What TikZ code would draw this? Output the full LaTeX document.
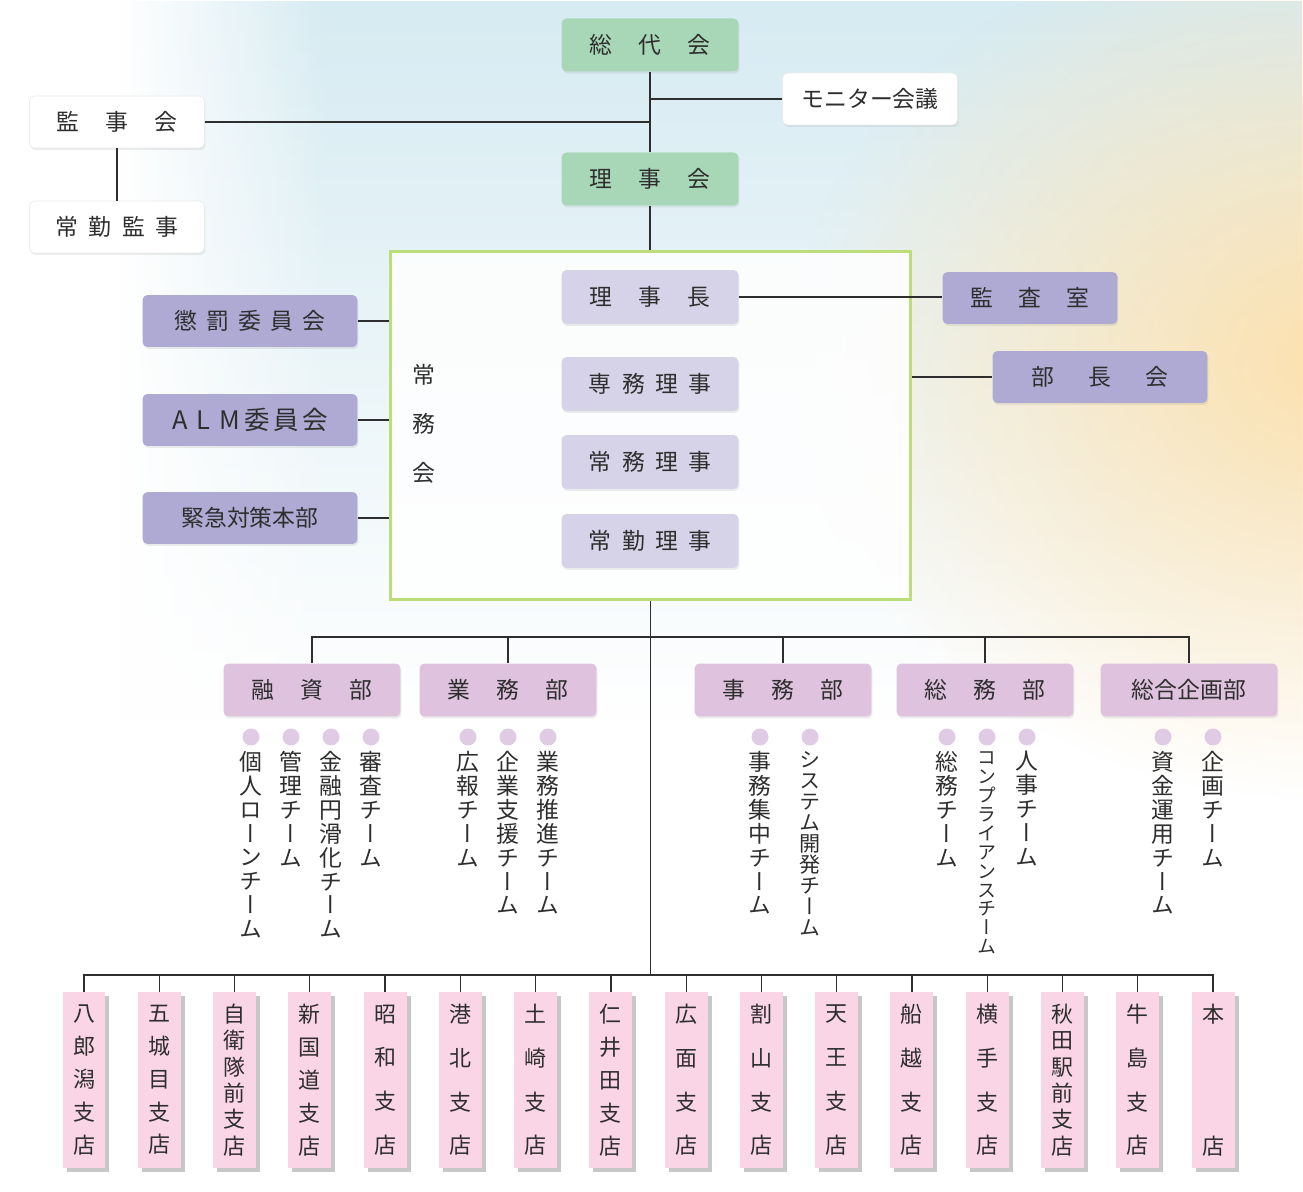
\documentclass[tikz,border=0pt]{standalone}
\usepackage{fontspec}
\setmainfont{Noto Sans CJK JP}
\newfontfamily\tatefont[RawFeature=+vert]{Noto Sans CJK JP}
\usetikzlibrary{shadows,fadings}

\definecolor{ink}{HTML}{2E2E2E}
\definecolor{wash}{HTML}{D6EBF2}
\definecolor{glow}{HTML}{FDE1AE}
\definecolor{mint}{HTML}{A7D7B7}
\definecolor{lilac}{HTML}{D6D3E9}
\definecolor{violet}{HTML}{AEAAD3}
\definecolor{mauve}{HTML}{DEC2DE}
\definecolor{blush}{HTML}{F9D5E5}
\definecolor{dotc}{HTML}{DFCCE4}
\definecolor{framegreen}{HTML}{BBDD7A}

\tikzfading[name=washfade, top color=transparent!0, bottom color=transparent!100]
\tikzfading[name=glowfade, inner color=transparent!0, outer color=transparent!100]
\tikzfading[name=edgefade, left color=transparent!0, right color=transparent!100]

\makeatletter
% characters stacked top to bottom, #1 = pitch
\newcommand\tate[2][13.6pt]{\vbox{\baselineskip=#1\relax\lineskiplimit=-\maxdimen
  \expandafter\tate@#2\@nil}}
\def\tate@#1#2\@nil{\hbox to 1em{\hss#1\hss}\ifx\relax#2\relax\else\tate@#2\@nil\fi}
% characters set apart, #1 = gap
\newcommand\spaced[2]{\spaced@{#1}#2\@nil}
\def\spaced@#1#2#3\@nil{#2\ifx\relax#3\relax\else\hspace{#1}\spaced@{#1}#3\@nil\fi}
\makeatother

\tikzset{
  box/.style={rounded corners=0.1cm, minimum width=3.54cm, minimum height=1.06cm,
    inner sep=0pt, text=ink, font=\fontsize{13pt}{15pt}\selectfont,
    drop shadow={shadow xshift=0.02cm, shadow yshift=-0.04cm, opacity=0.15}},
  greenbox/.style={box, fill=mint},
  whitebox/.style={box, fill=white, draw=black!8, line width=0.4pt,
    minimum width=3.5cm, minimum height=1.04cm},
  execbox/.style={box, fill=lilac, minimum height=1.08cm},
  sidebox/.style={box, fill=violet, minimum width=4.3cm, minimum height=1.04cm},
  deptbox/.style={box, fill=mauve},
  branchbox/.style={fill=blush, minimum width=0.86cm, minimum height=3.52cm, inner sep=0pt,
    text=ink, font=\tatefont\fontsize{12.5pt}{14pt}\selectfont,
    drop shadow={shadow xshift=0.08cm, shadow yshift=-0.08cm, fill=black!22, opacity=1}},
  team/.style={anchor=north, inner sep=0pt, text=ink, font=\tatefont\fontsize{#1}{15pt}\selectfont},
  team/.default=13pt,
  dot/.style={circle, fill=dotc, minimum size=0.34cm, inner sep=0pt},
  link/.style={draw=ink, line width=0.7pt}
}

\begin{document}
\begin{tikzpicture}[x=0.02cm, y=-0.02cm]
\useasboundingbox (0,0) rectangle (1303,1192);

% background wash
\begin{scope}
  \clip (0,0) rectangle (1303,1192);
  \fill[white] (0,0) rectangle (1303,1192);
  \fill[wash, path fading=washfade] (120,0) rectangle (1303,720);
  \fill[glow, path fading=glowfade] (1330,360) ellipse (540 and 440);
  \fill[white, path fading=edgefade] (120,0) rectangle (330,720);
\end{scope}

% general assembly, board, auditors
\node[greenbox] (sodai) at (650,45) {\spaced{1.15em}{総代会}};
\node[greenbox] (riji) at (650,179) {\spaced{1.15em}{理事会}};
\node[whitebox] (monitor) at (870,99) {モニター会議};
\node[whitebox] (kanji) at (117,122) {\spaced{1.15em}{監事会}};
\node[whitebox] (jokinkanji) at (117,227) {\spaced{0.45em}{常勤監事}};

% standing committee
\node[draw=framegreen, line width=0.06cm, fill=white, fill opacity=0.85,
  minimum width=10.42cm, minimum height=6.98cm, inner sep=0pt] (jomu) at (650.5,425.5) {};
\node[text=ink, font=\tatefont\fontsize{13pt}{15pt}\selectfont] (jomulabel) at (424,424) {\tate[27.8pt]{常務会}};
\node[execbox] (rijicho) at (650,297) {\spaced{1.15em}{理事長}};
\node[execbox] (senmu) at (650,384) {\spaced{0.45em}{専務理事}};
\node[execbox] (jomuriji) at (650,462) {\spaced{0.45em}{常務理事}};
\node[execbox] (jokinriji) at (650,541) {\spaced{0.45em}{常勤理事}};

% committees either side
\node[sidebox, minimum width=3.5cm] (kansa) at (1030,298) {\spaced{1.1em}{監査室}};
\node[sidebox] (bucho) at (1100,377) {\spaced{1.5em}{部長会}};
\node[sidebox] (chobatsu) at (250,321) {\spaced{0.4em}{懲罰委員会}};
\node[sidebox, font=\fontsize{14.5pt}{16pt}\selectfont] (alm) at (250,420)
  {\spaced{0.35em}{ALM}\hspace{0.2em}\spaced{0.13em}{委員会}};
\node[sidebox] (kinkyu) at (250,518) {緊急対策本部};

% top connectors
\draw[link] (sodai) -- (riji);
\draw[link] (riji) -- (riji |- jomu.north);
\draw[link] (monitor) -- (sodai |- monitor);
\draw[link] (kanji) -- (sodai |- kanji);
\draw[link] (kanji) -- (jokinkanji);
\draw[link] (rijicho) -- (rijicho -| kansa.west);
\draw[link] (jomu.east |- bucho) -- (bucho);
\foreach \n in {chobatsu,alm,kinkyu}
  \draw[link] (\n) -- (jomu.west |- \n);

% departments
\coordinate (dbar) at (0,637);
\coordinate (bbar) at (0,975);
\draw[link] (jomu.south) -- (jomu.south |- bbar);
\node[deptbox] (yushi) at (312,690) {\spaced{1.15em}{融資部}};
\node[deptbox] (gyomu) at (508,690) {\spaced{1.15em}{業務部}};
\node[deptbox] (jimu) at (783,690) {\spaced{1.15em}{事務部}};
\node[deptbox] (somu) at (985,690) {\spaced{1.15em}{総務部}};
\node[deptbox] (kikaku) at (1189,690) {総合企画部};
\draw[link] (yushi) |- (kikaku |- dbar) -- (kikaku);
\foreach \n in {gyomu,jimu,somu}
  \draw[link] (\n) -- (\n |- dbar);

% teams
\foreach \x/\lbl/\size/\pitch [count=\i] in {251/個人ローンチーム/13/13.6, 291/管理チーム/13/13.6,
    331/金融円滑化チーム/13/13.6, 371/審査チーム/13/13.6, 468/広報チーム/13/13.6,
    508/企業支援チーム/13/13.6, 548/業務推進チーム/13/13.6, 760/事務集中チーム/13/13.6,
    810/システム開発チーム/12/12, 947/総務チーム/13/13.6, 987/コンプライアンスチーム/10.8/10.8,
    1027/人事チーム/13/13.6, 1163/資金運用チーム/13/13.6, 1213/企画チーム/13/13.6}{
  \node[dot] (dot\i) at (\x,737) {};
  \node[team=\size pt] (team\i) at (\x,751) {\tate[\pitch pt]{\lbl}};
}

% branches
\foreach \lbl/\pitch [count=\i] in {八郎潟支店/18.7, 五城目支店/18.7, 自衛隊前支店/15.0,
    新国道支店/18.7, 昭和支店/24.9, 港北支店/24.9, 土崎支店/24.9, 仁井田支店/18.7,
    広面支店/24.9, 割山支店/24.9, 天王支店/24.9, 船越支店/24.9, 横手支店/24.9,
    秋田駅前支店/15.0, 牛島支店/24.9, 本店/74.8}
  \node[branchbox] (br\i) at ({84+(\i-1)*75.27},1080) {\tate[\pitch pt]{\lbl}};
\draw[link] (br1) |- (br16 |- bbar) -- (br16);
\foreach \i in {2,...,15}
  \draw[link] (br\i) -- (br\i |- bbar);
\end{tikzpicture}
\end{document}
